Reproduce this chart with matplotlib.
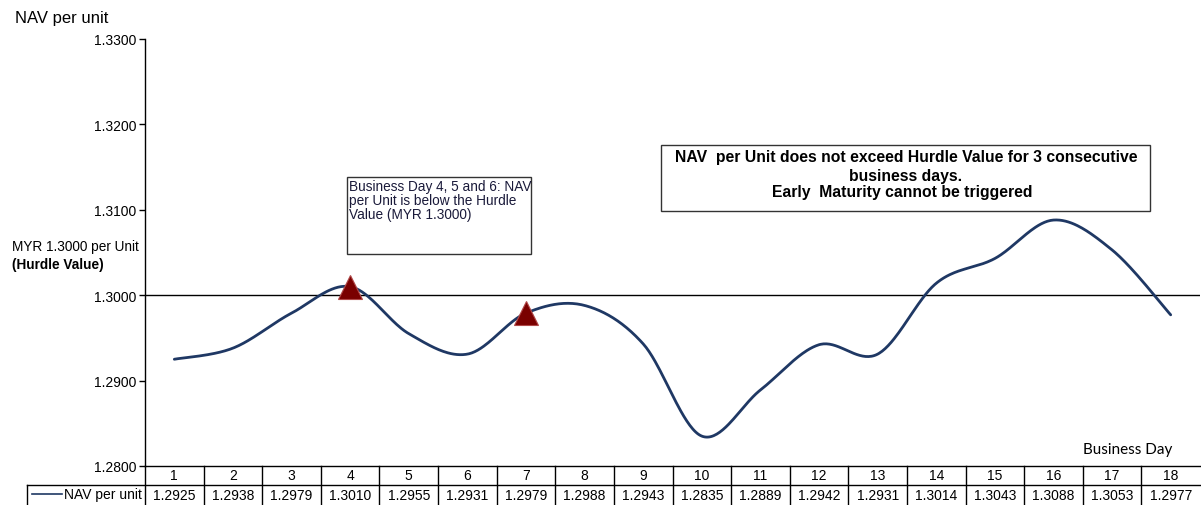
import numpy as np
import matplotlib
matplotlib.use("Agg")
import matplotlib.pyplot as plt
from matplotlib.lines import Line2D
from matplotlib.patches import Rectangle

days = list(range(1, 19))
nav = [1.2925, 1.2938, 1.2979, 1.3010, 1.2955, 1.2931, 1.2979, 1.2988, 1.2943,
       1.2835, 1.2889, 1.2942, 1.2931, 1.3014, 1.3043, 1.3088, 1.3053, 1.2977]
marker_days = [4, 7]
hurdle = 1.3000
yticks = [1.28, 1.29, 1.30, 1.31, 1.32, 1.33]

W, H = 1201, 506
plt.rcParams['font.family'] = ['Liberation Sans', 'DejaVu Sans']
fig = plt.figure(figsize=(W / 100, H / 100), dpi=100)

def fx(x):
    return x / W

def fy(y):
    return 1 - y / H

L, R, T, B = 145, 1200, 40, 467
ax = fig.add_axes([fx(L), fy(B), fx(R) - fx(L), fy(T) - fy(B)])
ax.set_xlim(0.5, 18.5)
ax.set_ylim(1.28, 1.33)

# smooth (Excel-style Bezier) rendering of the line through the data points
xs = np.array(days, dtype=float)
ys = np.array(nav)
px, py = [], []
n = len(xs)
for i in range(n - 1):
    p0 = (xs[max(i - 1, 0)], ys[max(i - 1, 0)])
    p1 = (xs[i], ys[i])
    p2 = (xs[i + 1], ys[i + 1])
    p3 = (xs[min(i + 2, n - 1)], ys[min(i + 2, n - 1)])
    c1 = (p1[0] + (p2[0] - p0[0]) / 6, p1[1] + (p2[1] - p0[1]) / 6)
    c2 = (p2[0] - (p3[0] - p1[0]) / 6, p2[1] - (p3[1] - p1[1]) / 6)
    t = np.linspace(0, 1, 40)
    bx = (1 - t) ** 3 * p1[0] + 3 * (1 - t) ** 2 * t * c1[0] + 3 * (1 - t) * t ** 2 * c2[0] + t ** 3 * p2[0]
    by = (1 - t) ** 3 * p1[1] + 3 * (1 - t) ** 2 * t * c1[1] + 3 * (1 - t) * t ** 2 * c2[1] + t ** 3 * p2[1]
    px.extend(bx)
    py.extend(by)
navy = '#1F3864'
ax.plot(px, py, color=navy, lw=2.0, solid_capstyle='round', zorder=3)
ax.axhline(hurdle, color='black', lw=1.0, zorder=2)
ax.plot(marker_days, [nav[d - 1] for d in marker_days], linestyle='none', marker='^',
        markersize=17, color='#7A0000', markeredgecolor='#B04848', markeredgewidth=0.8, zorder=4)

ax.set_yticks(yticks)
ax.set_yticklabels([f"{v:.4f}" for v in yticks], fontsize=10)
ax.set_xticks([])
for s in ['top', 'right']:
    ax.spines[s].set_visible(False)
ax.spines['left'].set_color('black')
ax.spines['left'].set_linewidth(1.0)
ax.spines['bottom'].set_visible(False)
ax.tick_params(axis='y', length=4, width=1, direction='out', pad=2, colors='black')

# table
lw = 1.0
col_w = (R - L) / 18
r0, r1, r2 = 467, 486, 505
fig.add_artist(Line2D([fx(L), fx(R + 1)], [fy(r0), fy(r0)], color='black', lw=lw))
fig.add_artist(Line2D([fx(27), fx(R + 1)], [fy(r1), fy(r1)], color='black', lw=lw))
fig.add_artist(Line2D([fx(27), fx(27)], [fy(r1), fy(r2)], color='black', lw=lw))
fig.add_artist(Line2D([fx(L), fx(L)], [fy(r0), fy(r2)], color='black', lw=lw))
for i in range(1, 18):
    xl = L + i * col_w
    fig.add_artist(Line2D([fx(xl), fx(xl)], [fy(r0), fy(r2)], color='black', lw=lw))
for i, (d, v) in enumerate(zip(days, nav)):
    xc = L + (i + 0.5) * col_w
    fig.text(fx(xc), fy((r0 + r1) / 2), str(d), ha='center', va='center', fontsize=10)
    fig.text(fx(xc), fy((r1 + r2) / 2 + 0.5), f"{v:.4f}", ha='center', va='center', fontsize=10)
fig.add_artist(Line2D([fx(32), fx(62)], [fy(495), fy(495)], color=navy, lw=1.2))
fig.text(fx(142), fy(495.5), "NAV per unit", ha='right', va='center', fontsize=10)

# labels
fig.text(fx(15), fy(18), "NAV per unit", ha='left', va='center', fontsize=12)
fig.text(fx(12), fy(247), "MYR 1.3000 per Unit", ha='left', va='center', fontsize=9.8)
fig.text(fx(12), fy(265), "(Hurdle Value)", ha='left', va='center', fontsize=9.8, fontweight='bold')
fig.text(fx(1172), fy(450), "Business Day", ha='right', va='center', fontsize=11,
         family=['Lato', 'DejaVu Sans'])

# annotation boxes
fig.add_artist(Rectangle((fx(347), fy(255)), fx(531) - fx(347), fy(178) - fy(255),
                         fill=False, edgecolor='#333333', lw=1.0))
fig.text(fx(349), fy(180), "Business Day 4, 5 and 6: NAV\nper Unit is below the Hurdle\nValue (MYR 1.3000)",
         ha='left', va='top', fontsize=9.8, color='#1A1A3A', linespacing=1.02)
fig.add_artist(Rectangle((fx(661), fy(212)), fx(1150) - fx(661), fy(146) - fy(212),
                         fill=False, edgecolor='#333333', lw=1.0))
fig.text(fx(906), fy(158), "NAV  per Unit does not exceed Hurdle Value for 3 consecutive",
         ha='center', va='center', fontsize=11.3, fontweight='bold')
fig.text(fx(906), fy(176), "business days.", ha='center', va='center', fontsize=11.3, fontweight='bold')
fig.text(fx(902), fy(193), "Early  Maturity cannot be triggered", ha='center', va='center',
         fontsize=11.3, fontweight='bold')

fig.savefig("out.png", dpi=100)
